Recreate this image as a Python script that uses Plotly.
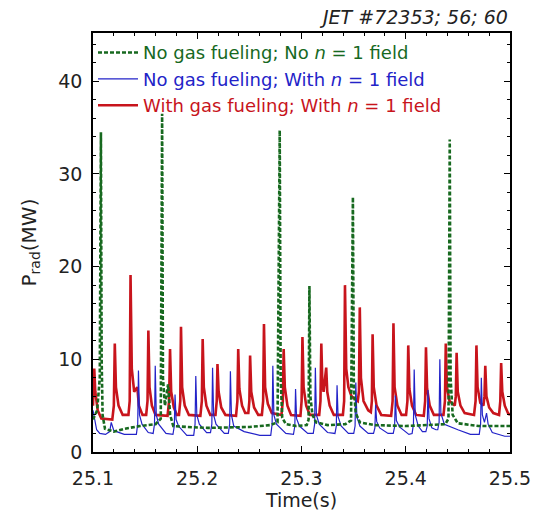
import plotly.graph_objects as go

# ---- data ----
# With gas fueling; With n = 1 field (red)
red_t = [25.1000, 25.1012, 25.1022, 25.1045, 25.1080,
         25.1185, 25.1200, 25.1209, 25.1220, 25.1245, 25.1285,
         25.1340, 25.1352, 25.1360, 25.1372, 25.1395, 25.1425, 25.1440, 25.1475,
         25.1510, 25.1523, 25.1531, 25.1542, 25.1565, 25.1600,
         25.1715, 25.1730, 25.1739, 25.1750, 25.1775, 25.1805,
         25.1825, 25.1837, 25.1844, 25.1855, 25.1880, 25.1920,
         25.2030, 25.2044, 25.2052, 25.2063, 25.2088, 25.2125,
         25.2175, 25.2187, 25.2194, 25.2205, 25.2230, 25.2270,
         25.2372, 25.2385, 25.2393, 25.2404, 25.2430, 25.2460,
         25.2490, 25.2500, 25.2507, 25.2518, 25.2545, 25.2585,
         25.2620, 25.2632, 25.2640, 25.2651, 25.2677, 25.2715,
         25.2808, 25.2821, 25.2829, 25.2840, 25.2865, 25.2900,
         25.2990, 25.3001, 25.3009, 25.3020, 25.3045, 25.3080,
         25.3170, 25.3182, 25.3190, 25.3200, 25.3212, 25.3237, 25.3247, 25.3270, 25.3310,
         25.3397, 25.3409, 25.3417, 25.3429, 25.3450, 25.3480, 25.3540,
         25.3551, 25.3559, 25.3570, 25.3595, 25.3640,
         25.3665, 25.3675, 25.3682, 25.3693, 25.3720, 25.3765,
         25.3860, 25.3874, 25.3882, 25.3893, 25.3920, 25.3960,
         25.4003, 25.4016, 25.4024, 25.4035, 25.4060, 25.4100,
         25.4173, 25.4186, 25.4194, 25.4205, 25.4230, 25.4270,
         25.4362, 25.4376, 25.4384, 25.4395, 25.4420, 25.4470, 25.4480, 25.4488, 25.4499, 25.4525, 25.4565,
         25.4655, 25.4670, 25.4678, 25.4689, 25.4715, 25.4745, 25.4755, 25.4763, 25.4774, 25.4800, 25.4840,
         25.4895, 25.4907, 25.4915, 25.4926, 25.4950, 25.4980, 25.5000]
red_v = [5.0, 9.0, 6.5, 4.5, 3.6,
         3.5, 5.0, 11.7, 7.0, 5.0, 4.0,
         4.0, 5.5, 19.1, 9.0, 6.5, 7.0, 5.0, 4.0,
         4.0, 5.5, 13.1, 7.0, 5.0, 4.0,
         3.9, 5.5, 11.1, 6.5, 4.8, 4.0,
         4.0, 5.5, 13.5, 7.0, 5.0, 4.0,
         3.9, 5.5, 12.2, 7.0, 5.0, 4.0,
         4.0, 5.5, 9.5, 6.5, 4.8, 4.0,
         3.9, 5.5, 11.1, 6.8, 5.0, 4.2,
         4.2, 5.5, 10.4, 6.5, 4.8, 4.0,
         4.0, 5.5, 13.8, 7.0, 5.2, 4.2,
         4.0, 5.5, 11.1, 7.0, 5.0, 4.0,
         3.9, 5.5, 12.4, 7.0, 5.0, 4.0,
         4.0, 5.5, 11.7, 7.5, 6.5, 9.1, 6.5, 5.0, 4.0,
         4.0, 5.5, 18.0, 9.0, 7.0, 6.0, 5.5,
         6.5, 15.6, 8.0, 5.5, 4.5,
         4.3, 5.5, 12.7, 7.0, 5.0, 4.0,
         3.9, 5.5, 13.9, 7.0, 5.0, 4.0,
         4.0, 5.5, 11.5, 6.8, 5.0, 4.0,
         3.9, 5.5, 11.3, 6.8, 5.0, 4.0,
         4.0, 5.5, 11.7, 7.0, 5.5, 5.0, 6.0, 10.7, 6.5, 5.0, 4.2,
         4.0, 5.5, 11.5, 7.0, 5.3, 5.0, 6.0, 9.3, 6.0, 4.8, 4.2,
         4.0, 5.5, 9.6, 6.5, 5.0, 4.2, 4.0]

# No gas fueling; With n = 1 field (blue)
blue_t = [25.1000, 25.1015, 25.1035, 25.1065, 25.1120, 25.1160, 25.1175, 25.1200, 25.1300,
          25.1416, 25.1429, 25.1436, 25.1446, 25.1470, 25.1530,
          25.1577, 25.1590, 25.1597, 25.1607, 25.1630, 25.1700,
          25.1767, 25.1780, 25.1787, 25.1797, 25.1820, 25.1900,
          25.1966, 25.1979, 25.1986, 25.1996, 25.2020, 25.2090,
          25.2127, 25.2140, 25.2147, 25.2157, 25.2180, 25.2260,
          25.2298, 25.2311, 25.2318, 25.2328, 25.2350, 25.2450, 25.2600,
          25.2705, 25.2718, 25.2725, 25.2735, 25.2760, 25.2850,
          25.2923, 25.2936, 25.2943, 25.2953, 25.2980, 25.3060,
          25.3113, 25.3126, 25.3133, 25.3143, 25.3170, 25.3250,
          25.3321, 25.3334, 25.3341, 25.3351, 25.3380, 25.3450,
          25.3501, 25.3514, 25.3521, 25.3531, 25.3560, 25.3640,
          25.3691, 25.3704, 25.3711, 25.3721, 25.3750, 25.3830,
          25.3880, 25.3893, 25.3900, 25.3910, 25.3940, 25.4030,
          25.4061, 25.4074, 25.4081, 25.4091, 25.4120, 25.4160,
          25.4193, 25.4206, 25.4213, 25.4223, 25.4250, 25.4290,
          25.4307, 25.4320, 25.4327, 25.4337, 25.4370, 25.4500, 25.4620,
          25.4705, 25.4718, 25.4725, 25.4735, 25.4755, 25.4775, 25.4790, 25.4830, 25.4950, 25.5000]
blue_v = [4.5, 3.5, 2.4, 2.0, 1.9, 2.2, 3.2, 2.3, 1.9,
          1.9, 3.0, 8.8, 4.0, 3.0, 2.1,
          2.0, 3.0, 9.3, 4.0, 3.0, 2.0,
          1.9, 2.8, 6.2, 3.5, 2.8, 1.8,
          1.8, 3.0, 8.2, 4.0, 3.0, 2.1,
          2.1, 3.0, 9.1, 4.0, 3.0, 2.0,
          2.0, 3.0, 8.7, 4.0, 2.8, 2.2, 1.8,
          1.8, 3.0, 9.3, 4.0, 3.0, 2.0,
          1.9, 2.8, 6.8, 3.6, 2.8, 2.0,
          2.0, 3.0, 9.1, 4.0, 3.0, 2.1,
          2.0, 2.8, 7.2, 3.8, 2.8, 2.0,
          2.0, 2.8, 7.5, 3.8, 2.8, 2.0,
          2.0, 2.6, 5.1, 3.3, 2.6, 2.0,
          2.0, 2.7, 6.1, 3.4, 2.7, 1.9,
          2.0, 3.0, 8.9, 4.0, 2.8, 2.2,
          2.2, 2.8, 6.7, 3.6, 2.6, 2.4,
          2.4, 3.2, 10.0, 4.2, 3.0, 2.4, 1.9,
          1.9, 3.0, 8.0, 4.0, 3.2, 4.2, 3.0, 2.1, 1.7, 1.7]

# No gas fueling; No n = 1 field (green, dashed)
green_t = [25.1000, 25.1040, 25.1065, 25.1076, 25.1083, 25.1092, 25.1115, 25.1200, 25.1300, 25.1450,
           25.1600, 25.1650, 25.1663, 25.1671, 25.1690, 25.1720, 25.1740, 25.1770, 25.1900,
           25.2100, 25.2500, 25.2700, 25.2770, 25.2791, 25.2800, 25.2815, 25.2850, 25.2950,
           25.3050, 25.3068, 25.3076, 25.3085, 25.3105, 25.3140, 25.3250, 25.3420,
           25.3475, 25.3493, 25.3502, 25.3520, 25.3560, 25.3700, 25.4000,
           25.4380, 25.4410, 25.4422, 25.4430, 25.4450, 25.4500, 25.4700, 25.5000]
green_v = [3.5, 4.5, 8.0, 34.5, 10.0, 4.0, 2.5, 2.2, 2.5, 2.8,
           3.0, 3.6, 36.5, 8.0, 5.0, 7.3, 4.0, 2.8, 2.7,
           2.6, 2.7, 2.9, 3.2, 34.7, 8.0, 3.7, 3.0, 2.8,
           2.9, 3.5, 17.9, 6.0, 4.0, 3.2, 2.9, 3.0,
           3.4, 27.5, 7.0, 4.2, 3.2, 2.9, 2.8,
           3.0, 3.6, 33.7, 8.0, 4.0, 3.1, 2.8, 2.8]

names = ["No gas fueling; No <i>n</i> = 1 field",
         "No gas fueling; With <i>n</i> = 1 field",
         "With gas fueling; With <i>n</i> = 1 field"]
colors = ["#17691f", "#2323c8", "#c8141c"]

x_ticks = [25.1, 25.2, 25.3, 25.4, 25.5]
y_ticks = [0, 10, 20, 30, 40]

FONT = "DejaVu Sans, Liberation Sans, Arial, sans-serif"

fig = go.Figure()
fig.add_trace(go.Scatter(x=red_t, y=red_v, mode="lines",
                         name=f"<span style='color:{colors[2]}'>{names[2]}</span>",
                         line=dict(color=colors[2], width=2.6)))
fig.add_trace(go.Scatter(x=blue_t, y=blue_v, mode="lines",
                         name=f"<span style='color:{colors[1]}'>{names[1]}</span>",
                         line=dict(color=colors[1], width=1.2)))
fig.add_trace(go.Scatter(x=green_t, y=green_v, mode="lines",
                         name=f"<span style='color:{colors[0]}'>{names[0]}</span>",
                         line=dict(color=colors[0], width=2.6, dash="4px,2px")))

axis_common = dict(showline=True, linecolor="black", linewidth=1.5, mirror="ticks",
                   ticks="inside", ticklen=6, tickcolor="black", showgrid=False,
                   zeroline=False, tickfont=dict(size=19, color="#222", family=FONT))

fig.update_xaxes(range=[25.1, 25.5], tickvals=x_ticks, ticktext=[str(v) for v in x_ticks],
                 ticklabelstandoff=8,
                 title=dict(text="Time(s)", font=dict(size=19, color="#222", family=FONT), standoff=6),
                 minor=dict(dtick=0.02, ticks="inside", ticklen=3, tickcolor="black"),
                 **axis_common)
fig.update_yaxes(range=[0, 45.2], tickvals=y_ticks, ticklabelstandoff=5,
                 title=dict(text="P<sub>rad</sub>(MW)", font=dict(size=20, color="#222", family=FONT),
                            standoff=16),
                 minor=dict(dtick=2, ticks="inside", ticklen=3, tickcolor="black"),
                 **axis_common)

fig.update_layout(
    width=543, height=520,
    margin=dict(l=93, r=28, t=33, b=65),
    paper_bgcolor="white", plot_bgcolor="white",
    font=dict(family=FONT, color="#222"),
    showlegend=True,
    legend=dict(x=0, y=0.997, xanchor="left", yanchor="top", bgcolor="rgba(0,0,0,0)",
                traceorder="reversed", font=dict(size=18, family=FONT), itemwidth=40,
                tracegroupgap=0, borderwidth=0),
    annotations=[dict(text="<i>JET #72353; 56; 60</i>", x=1, y=1, xref="paper", yref="paper",
                      xanchor="right", yanchor="bottom", yshift=3, showarrow=False,
                      font=dict(size=19, color="#222", family=FONT))],
)

fig.write_html("out.html")
